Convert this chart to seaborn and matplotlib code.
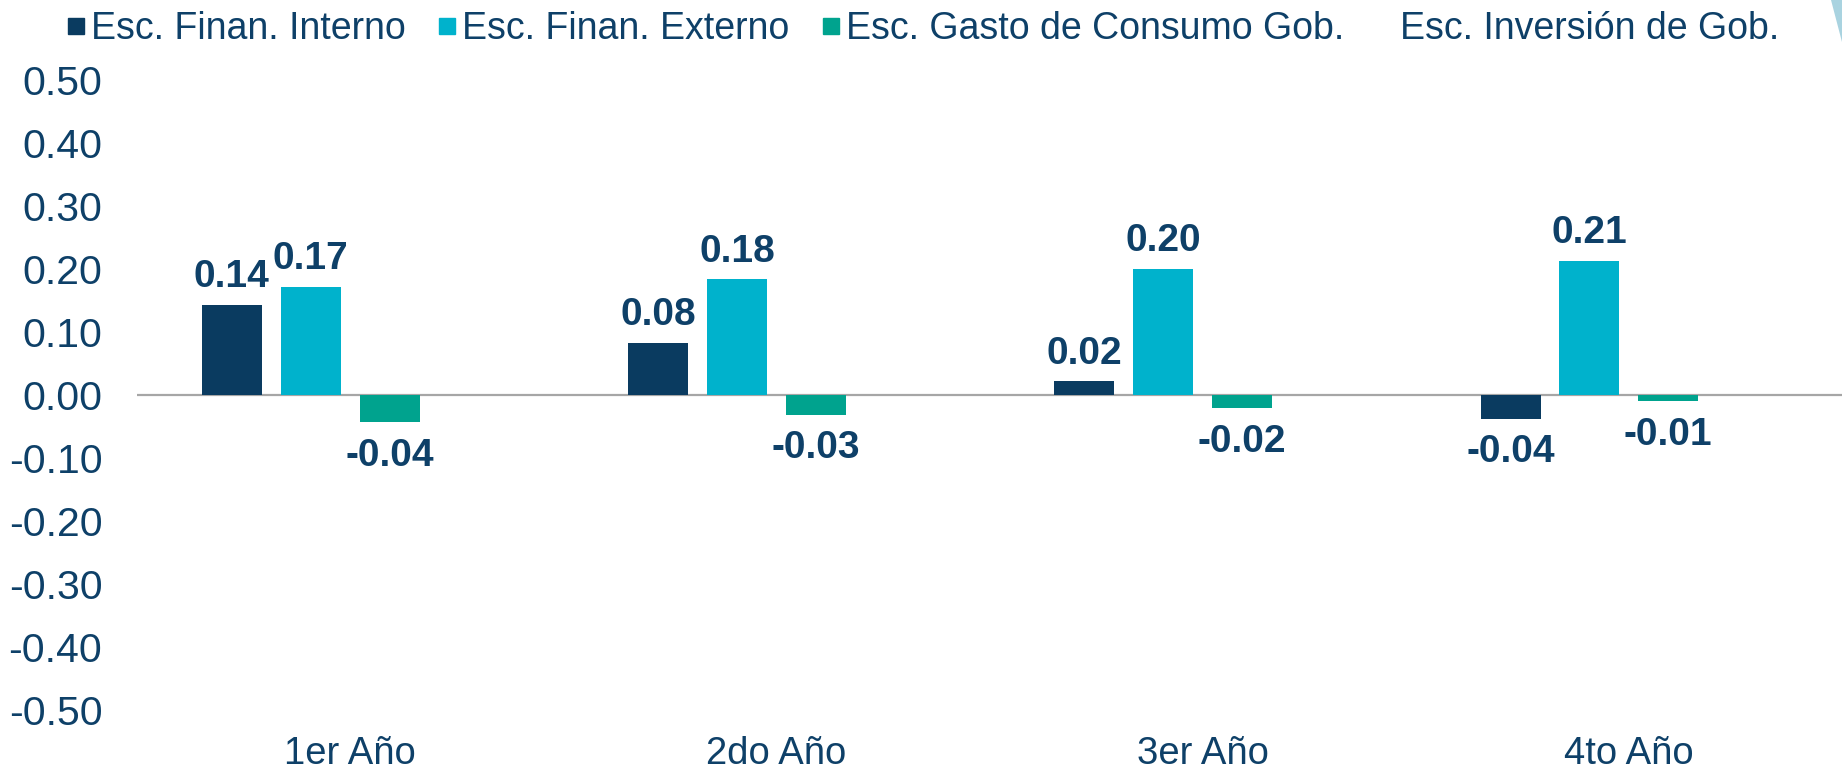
import matplotlib
matplotlib.use("Agg")
import matplotlib.pyplot as plt
from matplotlib.lines import Line2D
from matplotlib.patches import Polygon
import pandas as pd
import seaborn as sns

# data
YEARS = ["1er Año", "2do Año", "3er Año", "4to Año"]
SERIES = ["Esc. Finan. Interno", "Esc. Finan. Externo",
          "Esc. Gasto de Consumo Gob.", "Esc. Inversión de Gob."]
INTERNO = [0.143, 0.083, 0.022, -0.038]
EXTERNO = [0.172, 0.184, 0.201, 0.213]
GASTO = [-0.043, -0.031, -0.021, -0.010]
INVERSION = [0.0, 0.0, 0.0, 0.0]

COLORS = ["#0A3B60", "#00B2CC", "#00A38E", "#FFFFFF"]
TEXT = "#0E4068"

df = pd.DataFrame({
    "year": YEARS * 4,
    "serie": [s for s in SERIES for _ in YEARS],
    "valor": INTERNO + EXTERNO + GASTO + INVERSION,
})

sns.set_style("white")
plt.rcParams["font.family"] = ["Liberation Sans", "DejaVu Sans"]

fig = plt.figure(figsize=(18.42, 7.71), dpi=100)
ax = fig.add_axes([0.0744, 0.079, 0.9256, 0.817])

sns.barplot(data=df, x="year", y="valor", hue="serie", hue_order=SERIES,
            order=YEARS, palette=COLORS, saturation=1, width=0.74, gap=0.24,
            linewidth=0, legend=False, ax=ax)

# value labels (skip the empty Inversión series)
for cont, serie in zip(ax.containers, SERIES):
    if serie == SERIES[3]:
        continue
    for bar in cont:
        h = bar.get_height()
        x = bar.get_x() + bar.get_width() / 2
        off = 7 if h >= 0 else -11
        ax.annotate(f"{h:.2f}", (x, h), xytext=(0, off),
                    textcoords="offset points", ha="center",
                    va="bottom" if h >= 0 else "top",
                    fontsize=28, fontweight="bold", color=TEXT)

ax.axhline(0, color="#A6A6A6", linewidth=1.6, zorder=0.5)
ax.set_ylim(-0.5, 0.5)
ax.set_xlim(-0.5, 3.5)
ax.set_yticks([i / 10 for i in range(-5, 6)])
ax.set_yticklabels([f"{i / 10:.2f}" for i in range(-5, 6)])
ax.tick_params(axis="y", length=0, pad=25, labelsize=29.5, labelcolor=TEXT)
ax.tick_params(axis="x", length=0, pad=19, labelsize=27.5, labelcolor=TEXT)
ax.set_xlabel("")
ax.set_ylabel("")
for sp in ax.spines.values():
    sp.set_visible(False)

handles = [Line2D([], [], marker="s", linestyle="none", markersize=11,
                  markerfacecolor=c, markeredgecolor=c) for c in COLORS]
fig.legend(handles, SERIES, loc="upper left", bbox_to_anchor=(0.024, 1.015),
           ncol=4, frameon=False, fontsize=27, labelcolor=TEXT,
           handlelength=0.5, handletextpad=0.15, columnspacing=0.85,
           borderaxespad=0.2)

# decorative sliver in the top-right corner
fig.patches.append(Polygon([[0.994, 1.0], [1.0, 1.0], [1.0, 0.945]],
                           closed=True, transform=fig.transFigure,
                           facecolor="#A9D3E0", edgecolor="none"))

fig.savefig("out.png", dpi=100)
